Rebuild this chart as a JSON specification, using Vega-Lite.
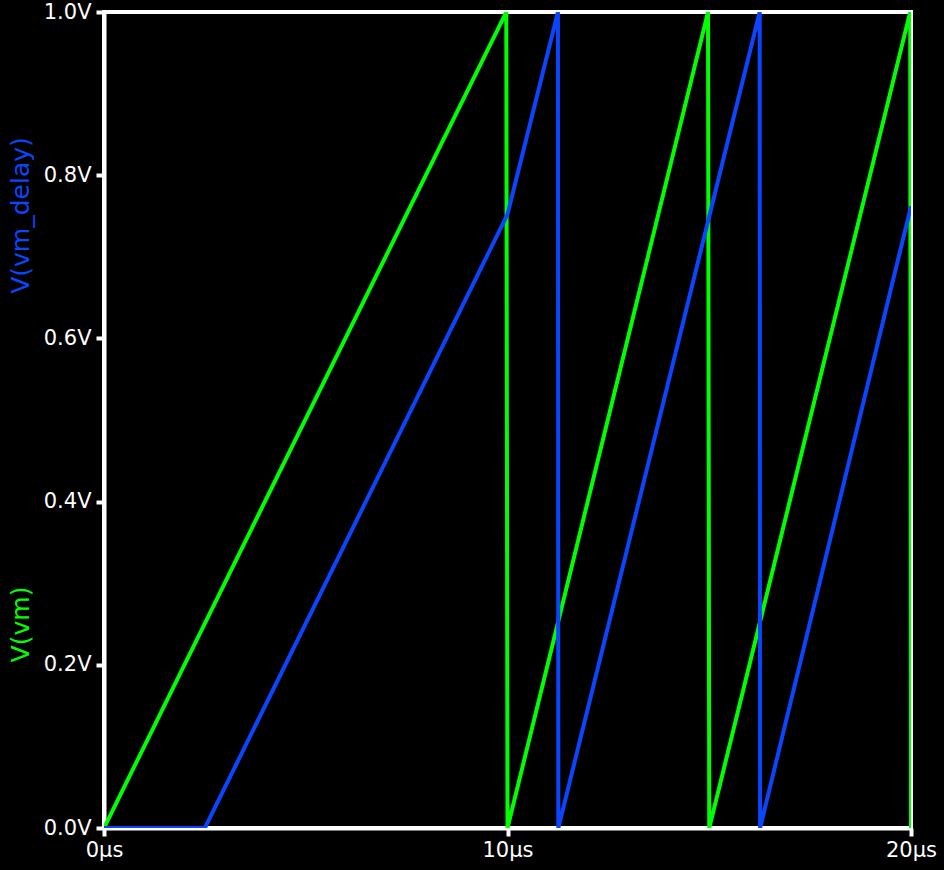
{
  "$schema": "https://vega.github.io/schema/vega-lite/v6.json",
  "autosize": "none",
  "width": 807,
  "height": 816,
  "padding": {"left": 104, "top": 12, "right": 33, "bottom": 42},
  "background": "#000000",
  "config": {
    "view": {"stroke": "#ffffff", "strokeWidth": 4, "fill": "#000000"}
  },
  "datasets": {
    "vm": [
      {"i": 0, "t": 0, "v": 0},
      {"i": 1, "t": 9.97, "v": 1},
      {"i": 2, "t": 10.0, "v": 0},
      {"i": 3, "t": 14.97, "v": 1},
      {"i": 4, "t": 15.0, "v": 0},
      {"i": 5, "t": 19.98, "v": 1},
      {"i": 6, "t": 20.0, "v": 0}
    ],
    "vmd": [
      {"i": 0, "t": 0, "v": 0},
      {"i": 1, "t": 2.5, "v": 0},
      {"i": 2, "t": 10.0, "v": 0.752},
      {"i": 3, "t": 11.25, "v": 1},
      {"i": 4, "t": 11.26, "v": 0},
      {"i": 5, "t": 16.25, "v": 1},
      {"i": 6, "t": 16.26, "v": 0},
      {"i": 7, "t": 20.0, "v": 0.762}
    ]
  },
  "layer": [
    {
      "data": {"name": "vm"},
      "mark": {"type": "line", "color": "#00ff00", "strokeWidth": 4, "clip": true},
      "encoding": {
        "x": {
          "field": "t", "type": "quantitative",
          "scale": {"domain": [0, 20], "nice": false, "zero": false},
          "axis": {
            "values": [0, 10, 20], "labelExpr": "datum.value + 'µs'", "title": null,
            "labelPadding": 3, "labelFlush": false, "grid": false,
            "domainColor": "#ffffff", "domainWidth": 4,
            "tickColor": "#ffffff", "tickWidth": 4, "tickSize": 8,
            "labelColor": "#ffffff", "labelFont": "DejaVu Sans", "labelFontSize": 21
          }
        },
        "y": {
          "field": "v", "type": "quantitative",
          "scale": {"domain": [0, 1], "nice": false},
          "axis": {
            "values": [0, 0.2, 0.4, 0.6, 0.8, 1.0],
            "labelExpr": "format(datum.value, '.1f') + 'V'",
            "labelPadding": 5, "labelFlush": false, "grid": false,
            "domainColor": "#ffffff", "domainWidth": 4,
            "tickColor": "#ffffff", "tickWidth": 4, "tickSize": 8,
            "labelColor": "#ffffff", "labelFont": "DejaVu Sans", "labelFontSize": 21,
            "title": "V(vm)", "titleColor": "#00ff00",
            "titleFont": "DejaVu Sans", "titleFontSize": 25, "titleFontWeight": "normal",
            "titleAngle": -90, "titleX": -71, "titleY": 612,
            "titleAlign": "center", "titleBaseline": "bottom"
          }
        },
        "order": {"field": "i", "type": "quantitative"}
      }
    },
    {
      "data": {"name": "vmd"},
      "mark": {"type": "line", "color": "#0a46ff", "strokeWidth": 4, "clip": true},
      "encoding": {
        "x": {"field": "t", "type": "quantitative"},
        "y": {
          "field": "v", "type": "quantitative",
          "scale": {"domain": [0, 1], "nice": false},
          "axis": {
            "orient": "right", "labels": false, "ticks": false, "domain": false, "grid": false,
            "title": "V(vm_delay)", "titleColor": "#0a46ff",
            "titleFont": "DejaVu Sans", "titleFontSize": 25, "titleFontWeight": "normal",
            "titleAngle": -90, "titleX": -878, "titleY": 203,
            "titleAlign": "center", "titleBaseline": "bottom"
          }
        },
        "order": {"field": "i", "type": "quantitative"}
      }
    }
  ],
  "resolve": {"scale": {"y": "independent"}, "axis": {"y": "independent"}}
}
